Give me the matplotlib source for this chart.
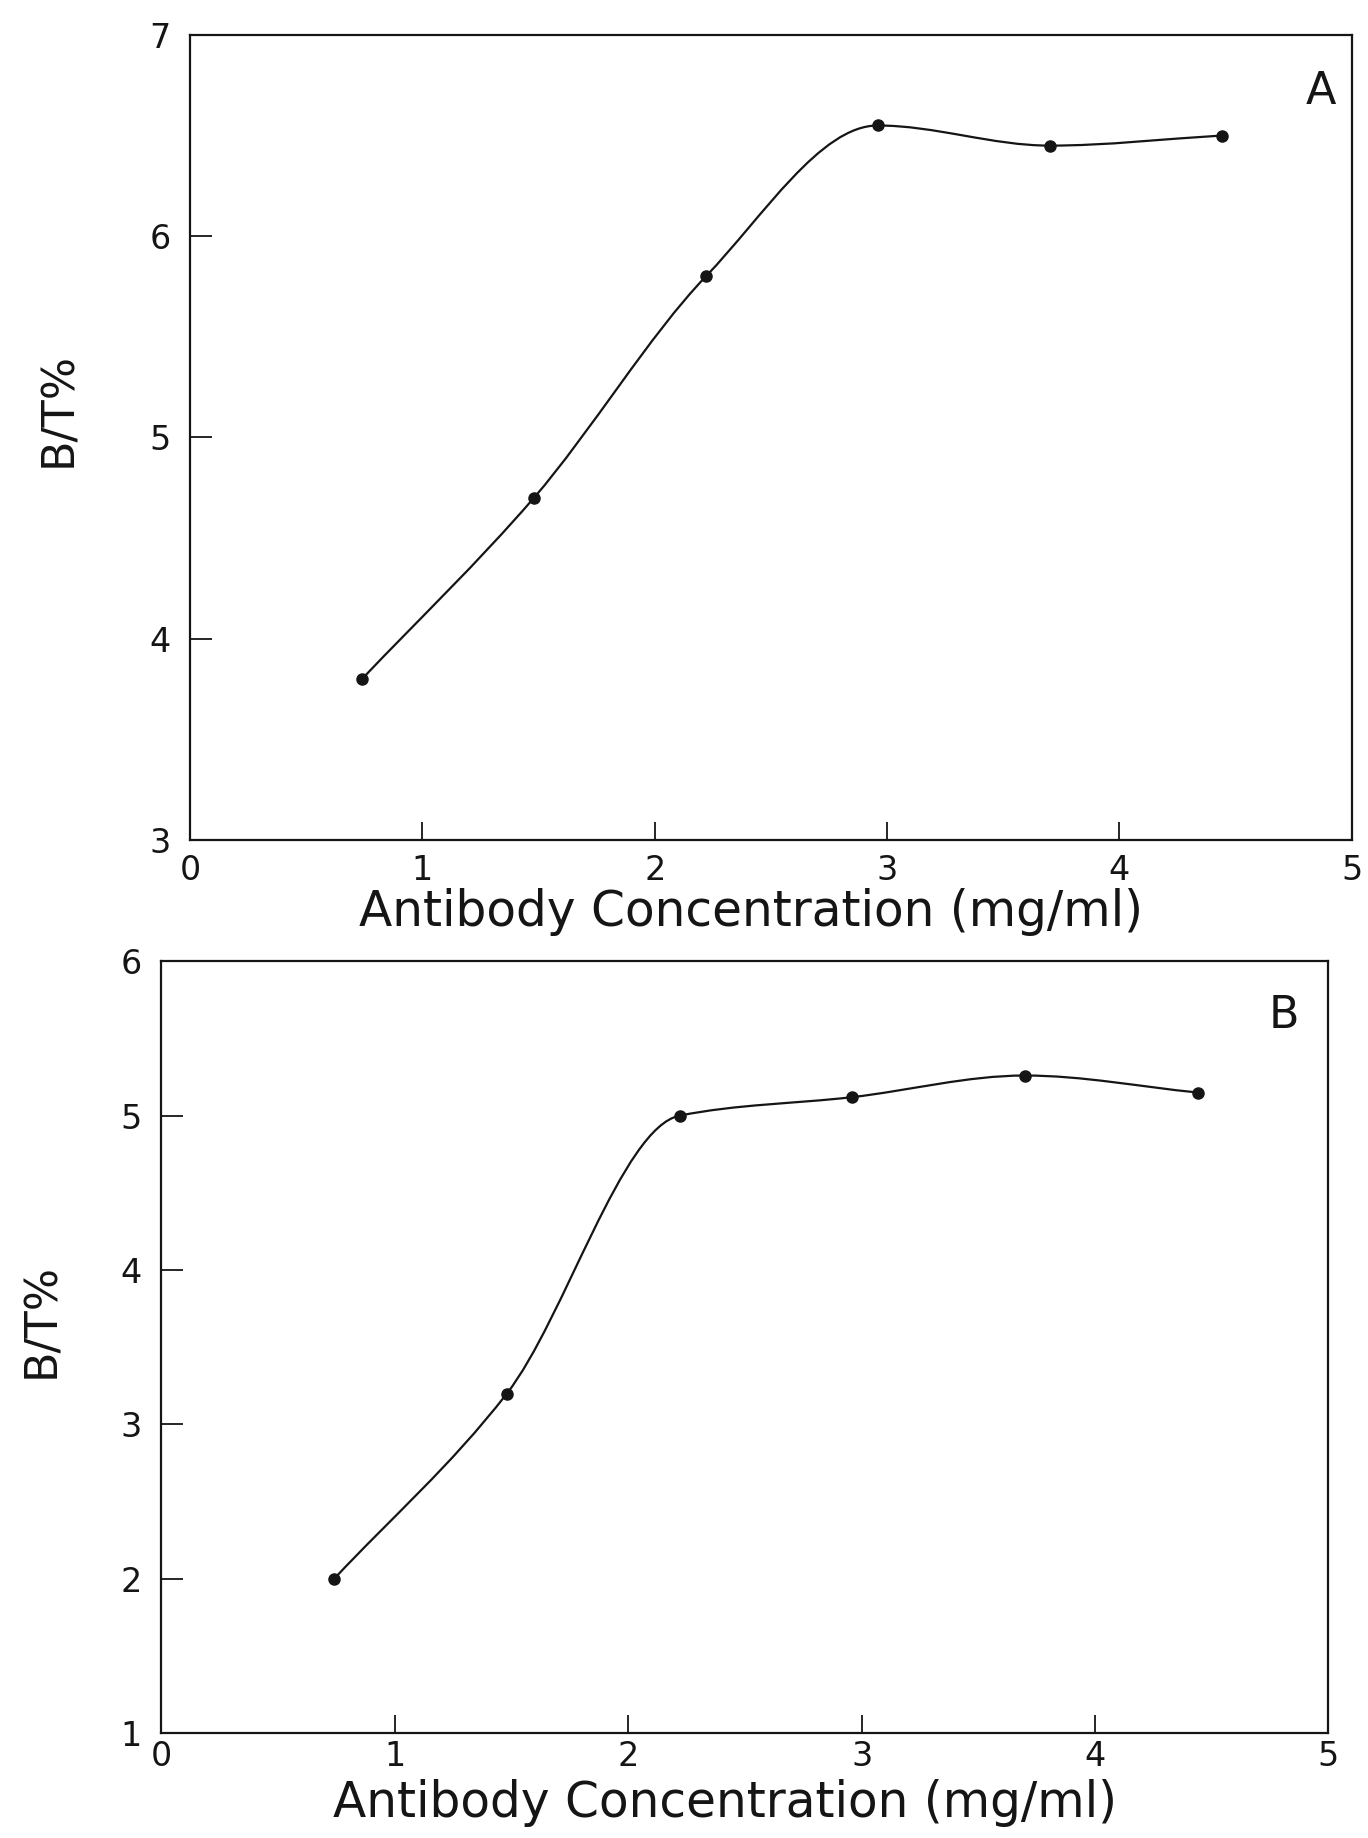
import numpy as np
import matplotlib.pyplot as plt
from matplotlib.path import Path
from matplotlib.patches import PathPatch

# antibody concentration (mg/ml)
conc = [0.74, 1.48, 2.22, 2.96, 3.70, 4.44]

# binding, B/T %
bt_a = [3.80, 4.70, 5.80, 6.55, 6.45, 6.50]
bt_b = [2.00, 3.20, 5.00, 5.12, 5.26, 5.15]

x_ticks = [0, 1, 2, 3, 4, 5]
y_ticks_a = [3, 4, 5, 6, 7]
y_ticks_b = [1, 2, 3, 4, 5, 6]

INK = '#151515'


def smooth_path(xs, ys):
    # monotone cubic (Fritsch-Butland tangents) as Bezier segments
    x = np.asarray(xs, float)
    y = np.asarray(ys, float)
    h = np.diff(x)
    d = np.diff(y) / h
    m = np.empty_like(y)
    m[0], m[-1] = d[0], d[-1]
    for k in range(1, len(y) - 1):
        if d[k - 1] * d[k] <= 0:
            m[k] = 0.0
        else:
            m[k] = 2 / (1 / d[k - 1] + 1 / d[k])
    verts = [(x[0], y[0])]
    codes = [Path.MOVETO]
    for k in range(len(h)):
        t = h[k] / 3
        verts += [(x[k] + t, y[k] + m[k] * t),
                  (x[k + 1] - t, y[k + 1] - m[k + 1] * t),
                  (x[k + 1], y[k + 1])]
        codes += [Path.CURVE4] * 3
    return Path(verts, codes)


def draw_panel(ax, ys, yticks, letter, xpad, xlab_y, ylab_x, letter_x):
    ax.add_patch(PathPatch(smooth_path(conc, ys), fill=False,
                           edgecolor=INK, lw=1.6))
    ax.plot(conc, ys, 'o', color=INK, markersize=8, zorder=3)
    ax.set_xlim(0, 5)
    ax.set_ylim(yticks[0], yticks[-1])
    ax.set_xticks(x_ticks)
    ax.set_yticks(yticks)
    for s in ax.spines.values():
        s.set_linewidth(1.6)
        s.set_color(INK)
    ax.tick_params(axis='x', direction='in', length=13, width=1.3,
                   pad=xpad, labelsize=24, colors=INK)
    ax.tick_params(axis='y', direction='in', length=16, width=1.3,
                   pad=14, labelsize=24, colors=INK)
    ax.set_xlabel('Antibody Concentration (mg/ml)', fontsize=35, color=INK,
                  va='center')
    ax.xaxis.set_label_coords(0.483, xlab_y)
    ax.set_ylabel('B/T%', fontsize=32, color=INK, va='center')
    ax.yaxis.set_label_coords(ylab_x, 0.535)
    ax.text(letter_x, 0.93, letter, transform=ax.transAxes, fontsize=32,
            ha='center', va='center', color=INK)


fig = plt.figure(figsize=(13.68, 18.38), dpi=100)
ax1 = fig.add_axes([0.139, 0.543, 0.849, 0.438])
ax2 = fig.add_axes([0.118, 0.057, 0.853, 0.420])

draw_panel(ax1, bt_a, y_ticks_a, 'A', 10, -0.090, -0.113, 0.974)
draw_panel(ax2, bt_b, y_ticks_b, 'B', 5, -0.090, -0.103, 0.962)

fig.savefig('out.png', dpi=100, facecolor='white')
